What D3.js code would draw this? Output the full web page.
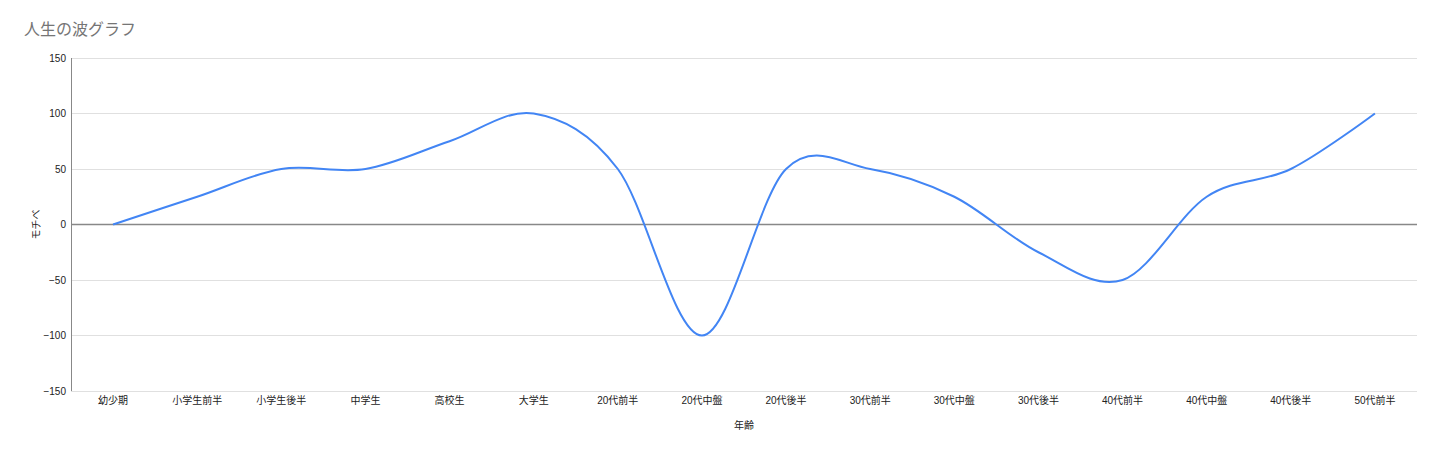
<!DOCTYPE html>
<html><head><meta charset="utf-8">
<script src="https://cdn.jsdelivr.net/npm/d3@7"></script>
<style>
body{margin:0;background:#fff;}
text{font-family:Arial,"Liberation Sans","Noto Sans CJK JP",sans-serif;}
</style></head>
<body><svg id="c" width="1440" height="453"></svg>
<script>
const categories = ["幼少期","小学生前半","小学生後半","中学生","高校生","大学生","20代前半","20代中盤","20代後半","30代前半","30代中盤","30代後半","40代前半","40代中盤","40代後半","50代前半"];
const motivation = [0,25,50,50,75,100,50,-100,50,50,25,-25,-50,25,50,100];
const yTicks = [-150,-100,-50,0,50,100,150];
const title = "人生の波グラフ";
const xTitle = "年齢";
const yTitle = "モチベ";

const svg = d3.select("#c");
const L = 71, R = 1417, T = 58, B = 391;
const x = d3.scaleBand().domain(categories).range([L, R]).padding(0);
const y = d3.scaleLinear().domain([-150, 150]).range([B, T]);

svg.append("text").attr("x", 24).attr("y", 35).attr("font-size", 16).attr("fill", "#757575").text(title);

// gridlines
svg.append("g").selectAll("line").data(yTicks).join("line")
  .attr("x1", L).attr("x2", R).attr("y1", d => y(d)).attr("y2", d => y(d))
  .attr("stroke", "#e0e0e0").attr("stroke-width", 1).attr("shape-rendering","crispEdges");

// y tick labels via axis
const yAxis = svg.append("g").attr("transform", `translate(${L},0)`)
  .call(d3.axisLeft(y).tickValues(yTicks).tickSize(0).tickPadding(5));
yAxis.select(".domain").remove();
yAxis.selectAll("text").attr("font-size", 10).attr("fill", "#222").attr("font-family","Arial,'Liberation Sans',sans-serif");

// x labels
const xAxis = svg.append("g").attr("transform", `translate(0,${B})`)
  .call(d3.axisBottom(x).tickSize(0).tickPadding(6));
xAxis.select(".domain").remove();
xAxis.selectAll("text").attr("font-size", 10).attr("fill", "#222");

// baseline 0
svg.append("line").attr("x1", L).attr("x2", R).attr("y1", y(0)).attr("y2", y(0))
  .attr("stroke", "#888").attr("stroke-width", 1.3);
// left axis line
svg.append("line").attr("x1", L).attr("x2", L).attr("y1", T).attr("y2", B)
  .attr("stroke", "#888").attr("stroke-width", 1).attr("shape-rendering","crispEdges");

// line
const line = d3.line().x((d,i) => x(categories[i]) + x.bandwidth()/2).y(d => y(d)).curve(d3.curveCatmullRom.alpha(0));
svg.append("path").datum(motivation).attr("d", line).attr("fill", "none")
  .attr("stroke", "#4285F4").attr("stroke-width", 2);

// axis titles
svg.append("text").attr("x", (L+R)/2).attr("y", 429).attr("text-anchor", "middle")
  .attr("font-size", 10).attr("fill", "#222").text(xTitle);
svg.append("text").attr("transform", `translate(40,${y(0)}) rotate(-90)`).attr("text-anchor", "middle")
  .attr("font-size", 10).attr("fill", "#222").text(yTitle);
</script></body></html>
